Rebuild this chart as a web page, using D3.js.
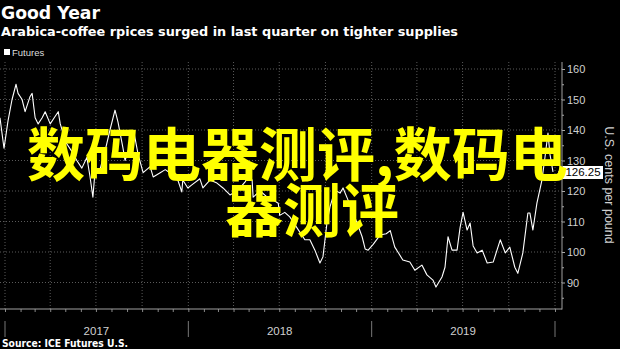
<!DOCTYPE html>
<html><head><meta charset="utf-8">
<script src="https://cdn.jsdelivr.net/npm/d3@7"></script>
<style>
html,body{margin:0;padding:0;background:#000;}
svg{display:block;}
</style></head>
<body>
<svg id="c" width="620" height="349"></svg>
<script>
const title = "Good Year";
const subtitle = "Arabica-coffee rpices surged in last quarter on tighter supplies";
const legendLabel = "Futures";
const source = "Source: ICE Futures U.S.";
const axisTitle = "U.S. cents per pound";
const overlayLines = ["数码电器测评,数码电", "器测评"];
const yTicks = [90, 100, 110, 120, 130, 140, 150, 160];
const yearLabels = ["2017", "2018", "2019"];
const lastValue = 126.25;

const dates = ["2016-12-22","2016-12-30","2017-01-07","2017-01-15","2017-01-23","2017-01-27","2017-02-04","2017-02-10","2017-02-20","2017-02-24","2017-03-02","2017-03-08","2017-03-16","2017-03-22","2017-04-01","2017-04-09","2017-04-17","2017-04-21","2017-05-02","2017-05-14","2017-05-24","2017-06-03","2017-06-13","2017-06-19","2017-06-25","2017-06-29","2017-07-09","2017-07-19","2017-07-29","2017-08-08","2017-08-14","2017-08-24","2017-08-28","2017-09-07","2017-09-15","2017-09-23","2017-10-03","2017-10-17","2017-10-23","2017-11-06","2017-11-16","2017-11-25","2017-12-05","2017-12-11","2017-12-19","2017-12-21","2017-12-31","2018-01-08","2018-01-24","2018-01-30","2018-02-13","2018-02-27","2018-03-11","2018-03-25","2018-04-04","2018-04-14","2018-04-24","2018-04-30","2018-05-08","2018-05-10","2018-05-24","2018-06-07","2018-06-19","2018-06-29","2018-07-02","2018-07-12","2018-07-22","2018-08-05","2018-08-21","2018-08-31","2018-09-10","2018-09-20","2018-09-26","2018-10-04","2018-10-10","2018-10-20","2018-10-30","2018-11-05","2018-11-15","2018-12-03","2018-12-13","2018-12-19","2018-12-25","2019-01-04","2019-01-18","2019-01-30","2019-02-07","2019-02-16","2019-02-20","2019-03-04","2019-03-18","2019-03-28","2019-04-11","2019-04-21","2019-05-03","2019-05-09","2019-05-21","2019-05-27","2019-06-02","2019-06-10","2019-06-20","2019-06-26","2019-07-02","2019-07-10","2019-07-16","2019-07-22","2019-07-30","2019-08-09","2019-08-19","2019-08-31","2019-09-14","2019-09-24","2019-10-03","2019-10-13","2019-10-19","2019-10-29","2019-11-08","2019-11-12","2019-11-18","2019-11-26","2019-12-06","2019-12-12","2019-12-18","2019-12-22","2019-12-28"];
const prices = [144,134,143,150,155,152,150,146,151,152,144,142,144,146,142,144,146,142,136,133,130,127.5,131,125,118,126,127,133,140,146.5,142.6,134,130,135,139,132,126,128,124.6,126,127,126,125,123.6,119.7,123.6,121,122,124,121,123.6,122.6,121,118.7,119.7,121,123,124.6,123.6,118,120,118,117,116,112,113,111.5,108,104,104,100.6,96.4,98.4,109.5,114.8,120.3,119.3,121,117,109.5,105,101,100.6,102.5,105.6,106,107,101.6,100.6,97.4,96.7,94,95.7,92.5,90.8,88.5,91.8,95,105,100.6,100.6,108,113,107.2,109.5,102,99.7,100.6,96.4,96.7,104,99.7,101.6,95,93,99.7,112.8,112.8,107.2,116,123.6,131,139,132,126.25];

const parse = d3.timeParse("%Y-%m-%d");
const data = dates.map((d, i) => ({date: parse(d), value: prices[i]}));

const svg = d3.select("#c");
const x = d3.scaleTime().domain([new Date(2017,0,1), new Date(2020,0,1)]).range([5, 555]);
const y = d3.scaleLinear().domain([90, 160]).range([282.5, 69]);
const plotTop = 62, plotBottom = 309, axisX = 562;

// gridlines
const grid = svg.append("g");
grid.selectAll("line.h").data(yTicks).join("line")
  .attr("x1", 0).attr("x2", axisX).attr("y1", d => y(d)).attr("y2", d => y(d))
  .attr("stroke", "#5a5a5a").attr("stroke-dasharray", "1,2");
const quarters = d3.timeMonth.every(3).range(new Date(2017,0,1), new Date(2020,0,2));
grid.selectAll("line.v").data(quarters).join("line")
  .attr("x1", d => x(d)).attr("x2", d => x(d)).attr("y1", plotTop).attr("y2", plotBottom)
  .attr("stroke", "#5a5a5a").attr("stroke-dasharray", "1,2");

// line
svg.append("path").datum(data)
  .attr("fill", "none").attr("stroke", "#fff").attr("stroke-width", 1.1)
  .attr("stroke-linejoin", "round")
  .attr("d", d3.line().x(d => x(d.date)).y(d => y(d.value)));

// right axis
const yAxis = d3.axisRight(y).tickValues(yTicks).tickSize(3).tickPadding(2).tickFormat(d3.format("d"));
const ya = svg.append("g").attr("transform", `translate(${axisX},0)`).call(yAxis);
ya.select(".domain").remove();
ya.selectAll("line").attr("stroke", "#aaa");
ya.selectAll("text").attr("fill", "#d0d0d0").attr("font-family", "Liberation Sans, Arial, sans-serif").attr("font-size", 11);
const minorY = d3.range(85, 161, 10);
const ym = svg.append("g").attr("transform", `translate(${axisX},0)`)
  .call(d3.axisRight(y).tickValues(minorY).tickSize(2).tickFormat(""));
ym.select(".domain").remove();
ym.selectAll("line").attr("stroke", "#aaa");
svg.append("line").attr("x1", axisX).attr("x2", axisX).attr("y1", plotTop).attr("y2", plotBottom + 0.5)
  .attr("stroke", "#a0a0a0");

// bottom axis
const xAxis = d3.axisBottom(x).ticks(d3.timeMonth.every(1)).tickSize(3).tickFormat("");
const xa = svg.append("g").attr("transform", `translate(0,${plotBottom})`).call(xAxis);
xa.select(".domain").remove();
xa.selectAll("line").attr("stroke", "#888");
svg.append("line").attr("x1", 0).attr("x2", axisX).attr("y1", plotBottom).attr("y2", plotBottom)
  .attr("stroke", "#a0a0a0");
const yearStarts = d3.timeYear.range(new Date(2017,0,1), new Date(2020,0,2));
svg.selectAll("line.ysep").data(yearStarts).join("line")
  .attr("x1", d => x(d)).attr("x2", d => x(d)).attr("y1", 321).attr("y2", 337)
  .attr("stroke", "#777");
svg.selectAll("text.year").data(yearLabels).join("text")
  .attr("x", (d) => x(new Date(+d, 6, 2))).attr("y", 335)
  .attr("text-anchor", "middle").attr("fill", "#d0d0d0")
  .attr("font-family", "Liberation Sans, Arial, sans-serif").attr("font-size", 11.5)
  .text(d => d);

// value label
const vy = y(lastValue);
svg.append("path")
  .attr("d", `M558,${vy} L563,${vy-6} L603,${vy-6} L603,${vy+7} L563,${vy+7} Z`)
  .attr("fill", "#fff");
svg.append("text").attr("x", 583).attr("y", vy + 4.5).attr("text-anchor", "middle")
  .attr("fill", "#000").attr("font-family", "Liberation Sans, Arial, sans-serif").attr("font-size", 11.5)
  .text(lastValue.toFixed(2));

// axis title
svg.append("text").attr("transform", "translate(605,185) rotate(90)")
  .attr("text-anchor", "middle").attr("fill", "#d0d0d0")
  .attr("font-family", "Liberation Sans, Arial, sans-serif").attr("font-size", 12.5)
  .text(axisTitle);

// titles
svg.append("text").attr("x", 1).attr("y", 19).attr("fill", "#fff")
  .attr("font-family", "DejaVu Sans, sans-serif").attr("font-weight", "bold").attr("font-size", 18)
  .attr("textLength", 99).attr("lengthAdjust", "spacingAndGlyphs").text(title);
svg.append("text").attr("x", 1).attr("y", 36).attr("fill", "#fff")
  .attr("font-family", "DejaVu Sans, sans-serif").attr("font-weight", "bold").attr("font-size", 12.5)
  .attr("textLength", 457).attr("lengthAdjust", "spacingAndGlyphs").text(subtitle);
svg.append("rect").attr("x", 4).attr("y", 49).attr("width", 6).attr("height", 6).attr("fill", "#fff");
svg.append("text").attr("x", 12).attr("y", 56).attr("fill", "#ddd")
  .attr("font-family", "Liberation Sans Narrow, Liberation Sans, sans-serif").attr("font-size", 9.5)
  .text(legendLabel);
svg.append("text").attr("x", 2).attr("y", 347).attr("fill", "#fff")
  .attr("font-family", "DejaVu Sans, sans-serif").attr("font-weight", "bold").attr("font-size", 10)
  .attr("textLength", 126).attr("lengthAdjust", "spacingAndGlyphs").text(source);

// overlay (one text block, two lines)
const ovPos = [{x: 27, y: 176}, {x: 225, y: 232}];
const ovText = svg.append("text").attr("fill", "#ffff00")
  .attr("font-family", "Noto Sans CJK SC, sans-serif").attr("font-weight", "bold").attr("font-size", 58);
ovText.selectAll("tspan").data(overlayLines).join("tspan")
  .attr("x", (d, i) => ovPos[i].x).attr("y", (d, i) => ovPos[i].y)
  .text(d => d);
</script>
</body></html>
